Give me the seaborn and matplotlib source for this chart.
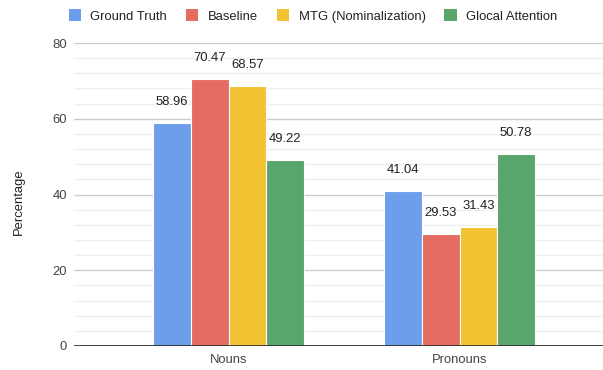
import matplotlib
matplotlib.use("Agg")
import matplotlib.pyplot as plt
from matplotlib.ticker import MultipleLocator
import pandas as pd
import seaborn as sns

categories = ["Nouns", "Pronouns"]
series = ["Ground Truth", "Baseline", "MTG (Nominalization)", "Glocal Attention"]
ground_truth = [58.96, 41.04]
baseline = [70.47, 29.53]
mtg_nominalization = [68.57, 31.43]
glocal_attention = [49.22, 50.78]
colors = ["#6d9eeb", "#e46c63", "#f1c232", "#59a66c"]

rows = []
for name, vals in zip(series, [ground_truth, baseline, mtg_nominalization, glocal_attention]):
    for cat, v in zip(categories, vals):
        rows.append({"category": cat, "series": name, "value": v})
df = pd.DataFrame(rows)

sns.set_theme(style="white")
plt.rcParams["font.family"] = ["Liberation Sans", "DejaVu Sans"]
FS = 9.4

fig = plt.figure(figsize=(6.03, 3.70), dpi=100)
ax = fig.add_axes([74 / 603, 1 - 346 / 370, 1 - 74 / 603, (346 - 43) / 370])

sns.barplot(data=df, x="category", y="value", hue="series", order=categories,
            hue_order=series, palette=colors, width=0.65, saturation=1,
            edgecolor="white", linewidth=0.8, ax=ax)

# value labels above each bar
for container in ax.containers:
    for bar in container:
        h = bar.get_height()
        ax.annotate(f"{h:.2f}", (bar.get_x() + bar.get_width() / 2, h),
                    xytext=(0, 15.1), textcoords="offset points",
                    ha="center", va="center", fontsize=FS, color="#222222")

ax.set_ylim(0, 80)
ax.set_xlim(-0.669, 1.621)
ax.yaxis.set_major_locator(MultipleLocator(20))
ax.yaxis.set_minor_locator(MultipleLocator(4))
ax.grid(axis="y", which="major", color="#cccccc", linewidth=1.0)
ax.grid(axis="y", which="minor", color="#efefef", linewidth=1.0)
ax.set_axisbelow(True)
ax.axhline(0, color="#333333", linewidth=1.3, zorder=5)
for s in ax.spines.values():
    s.set_visible(False)

ax.tick_params(axis="both", which="both", length=0, labelsize=FS, labelcolor="#444444")
ax.tick_params(axis="y", pad=5)
ax.tick_params(axis="x", pad=6)
ax.set_xlabel("")
ax.set_ylabel("Percentage", fontsize=FS, color="#222222")
ax.yaxis.set_label_coords(-(74 - 24.5) / 529, (346 - 201.5) / 303)

handles, labels = ax.get_legend_handles_labels()
ax.get_legend().remove()
for h in handles:
    h.set_edgecolor("none")
fig.legend(handles, labels, loc="center", bbox_to_anchor=(313 / 603, 1 - 16 / 370),
           ncol=4, frameon=False, fontsize=FS, handlelength=0.95, handleheight=0.95,
           handletextpad=0.72, columnspacing=1.44, labelcolor="#222222")

fig.savefig("out.png", dpi=100)
